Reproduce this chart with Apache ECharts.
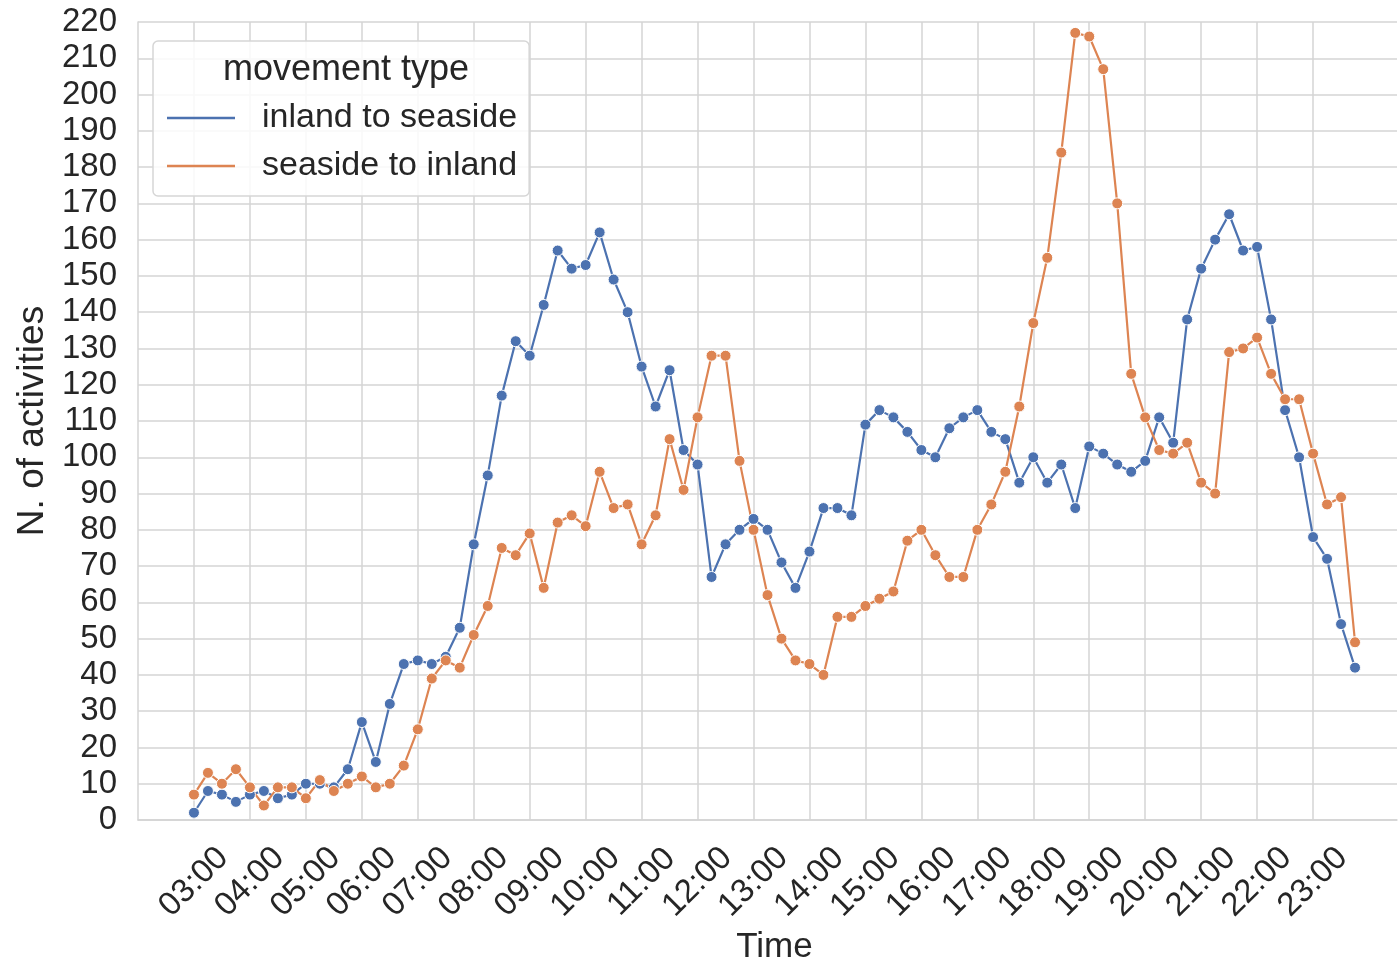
<!DOCTYPE html>
<html>
<head>
<meta charset="utf-8">
<script src="https://cdn.jsdelivr.net/npm/echarts@6/dist/echarts.min.js"></script>
<style>
html,body{margin:0;padding:0;background:#fff;}
#chart{width:1400px;height:960px;}
</style>
</head>
<body>
<div id="chart"></div>
<script>
// Hour tick labels shown on the x axis
const tickLabels = ['03:00','04:00','05:00','06:00','07:00','08:00','09:00','10:00','11:00','12:00','13:00',
  '14:00','15:00','16:00','17:00','18:00','19:00','20:00','21:00','22:00','23:00'];

// 15-minute slots 03:00 .. 23:45 (84 values per series)
const inlandToSeaside = [2,8,7,5,7,8,6,7,10,10,9,14,27,16,32,43,44,43,45,53,
  76,95,117,132,128,142,157,152,153,162,149,140,125,114,124,102,98,67,76,80,
  83,80,71,64,74,86,86,84,109,113,111,107,102,100,108,111,113,107,105,93,
  100,93,98,86,103,101,98,96,99,111,104,138,152,160,167,157,158,138,113,100,
  78,72,54,42];
const seasideToInland = [7,13,10,14,9,4,9,9,6,11,8,10,12,9,10,15,25,39,44,42,
  51,59,75,73,79,64,82,84,81,96,86,87,76,84,105,91,111,128,128,99,
  80,62,50,44,43,40,56,56,59,61,63,77,80,73,67,67,80,87,96,114,
  137,155,184,217,216,207,170,123,111,102,101,104,93,90,129,130,133,123,116,116,
  101,87,89,49];

const seriesNames = ['inland to seaside', 'seaside to inland'];
const colors = ['#4c72b0', '#dd8452'];

// Axis slots: 02:00 .. 24:30 every 15 min (the axis extends beyond the data like matplotlib margins)
const startMin = 2 * 60, endMin = 24 * 60 + 30, step = 15;
const categories = [];
for (let m = startMin; m <= endMin; m += step) {
  const h = Math.floor(m / 60), mm = m % 60;
  categories.push(String(h).padStart(2, '0') + ':' + String(mm).padStart(2, '0'));
}
const dataStart = categories.indexOf('03:00');
function pad(arr) {
  const out = categories.map(() => null);
  arr.forEach((v, i) => { out[dataStart + i] = v; });
  return out;
}
const isTick = (idx, val) => tickLabels.includes(categories[idx]);

const FONT = "'Liberation Sans', Arial, sans-serif";
const TXT = '#262626';
const GRID = '#d4d4d4';

const chart = echarts.init(document.getElementById('chart'), null, {renderer: 'canvas'});
chart.setOption({
  backgroundColor: '#ffffff',
  animation: false,
  textStyle: {fontFamily: FONT},
  grid: {left: 138, right: 3, top: 22, bottom: 140, containLabel: false, outerBoundsMode: 'none'},
  title: {
    text: 'movement type',
    left: 341, top: 47, textAlign: 'center', z: 10,
    textStyle: {fontFamily: FONT, fontSize: 36, fontWeight: 'normal', color: TXT}
  },
  legend: {
    orient: 'vertical',
    left: 153, top: 41,
    padding: [59, 12, 12, 14],
    itemGap: 12,
    itemWidth: 68, itemHeight: 2.5,
    icon: 'rect',
    itemStyle: {borderWidth: 0},
    backgroundColor: 'rgba(255,255,255,0.85)',
    borderColor: '#d6d6d6', borderWidth: 1.5, borderRadius: 5,
    data: seriesNames,
    textStyle: {fontFamily: FONT, fontSize: 34, color: TXT, lineHeight: 36, padding: [0, 0, 0, 22]}
  },
  xAxis: {
    type: 'category',
    data: categories,
    boundaryGap: false,
    name: 'Time', nameLocation: 'middle', nameGap: 108,
    nameTextStyle: {fontFamily: FONT, fontSize: 35, color: TXT, padding: [0, 0, 0, 14]},
    axisLine: {show: true, lineStyle: {color: GRID, width: 1.5}},
    axisTick: {show: false},
    axisLabel: {
      interval: isTick, rotate: 45, margin: 62, align: 'center', verticalAlign: 'middle',
      fontFamily: FONT, fontSize: 33, color: TXT
    },
    splitLine: {show: true, interval: isTick, lineStyle: {color: GRID, width: 1.5}}
  },
  yAxis: {
    type: 'value', min: 0, max: 220, interval: 10,
    name: 'N. of activities', nameLocation: 'middle', nameGap: 86, nameRotate: 90,
    nameTextStyle: {fontFamily: FONT, fontSize: 37, color: TXT},
    axisLine: {show: true, lineStyle: {color: GRID, width: 1.5}},
    axisTick: {show: false},
    axisLabel: {margin: 21, fontFamily: FONT, fontSize: 33, color: TXT},
    splitLine: {show: true, lineStyle: {color: GRID, width: 1.5}}
  },
  series: [inlandToSeaside, seasideToInland].map((arr, k) => ({
    name: seriesNames[k],
    type: 'line',
    data: pad(arr),
    connectNulls: false,
    symbol: 'circle', symbolSize: 11,
    showSymbol: true, showAllSymbol: true,
    lineStyle: {color: colors[k], width: 2.2},
    itemStyle: {color: colors[k], borderColor: '#ffffff', borderWidth: 1}
  }))
});
</script>
</body>
</html>
